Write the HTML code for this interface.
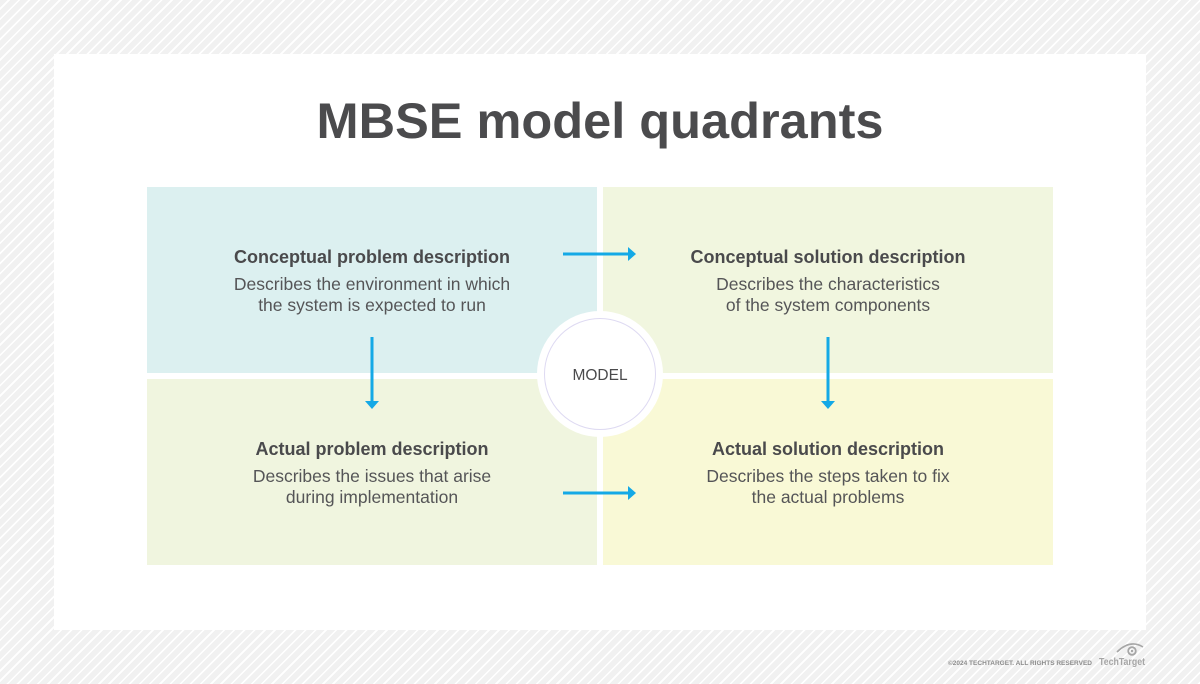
<!DOCTYPE html>
<html>
<head>
<meta charset="utf-8">
<style>
  html, body { margin: 0; padding: 0; }
  body {
    width: 1200px; height: 684px; overflow: hidden;
    background: repeating-linear-gradient(135deg, #f1f1f1 0px, #f1f1f1 5.6px, #ffffff 5.6px, #ffffff 7.2px);
  }
  svg { display: block; }
  text { font-family: "Liberation Sans", Arial, sans-serif; }
</style>
</head>
<body>
<svg width="1200" height="684" viewBox="0 0 1200 684" xmlns="http://www.w3.org/2000/svg">
  <!-- card -->
  <rect x="54" y="54" width="1092" height="576" fill="#ffffff"/>

  <!-- title -->
  <text x="600" y="138" text-anchor="middle" font-size="50" font-weight="bold" fill="#4b4b4d" textLength="567" lengthAdjust="spacingAndGlyphs">MBSE model quadrants</text>

  <!-- quadrants -->
  <rect x="147" y="187" width="450" height="186" fill="#dcf0f0"/>
  <rect x="603" y="187" width="450" height="186" fill="#f1f6df"/>
  <rect x="147" y="379" width="450" height="186" fill="#f0f5df"/>
  <rect x="603" y="379" width="450" height="186" fill="#f9f9d6"/>

  <!-- top-left text -->
  <text x="372" y="263" text-anchor="middle" font-size="18" font-weight="bold" fill="#4a4a4c">Conceptual problem description</text>
  <text x="372" y="290" text-anchor="middle" font-size="17.5" fill="#555557">Describes the environment in which</text>
  <text x="372" y="311" text-anchor="middle" font-size="17.5" fill="#555557">the system is expected to run</text>

  <!-- top-right text -->
  <text x="828" y="263" text-anchor="middle" font-size="18" font-weight="bold" fill="#4a4a4c">Conceptual solution description</text>
  <text x="828" y="290" text-anchor="middle" font-size="17.5" fill="#555557">Describes the characteristics</text>
  <text x="828" y="311" text-anchor="middle" font-size="17.5" fill="#555557">of the system components</text>

  <!-- bottom-left text -->
  <text x="372" y="455" text-anchor="middle" font-size="18" font-weight="bold" fill="#4a4a4c">Actual problem description</text>
  <text x="372" y="482" text-anchor="middle" font-size="17.5" fill="#555557">Describes the issues that arise</text>
  <text x="372" y="503" text-anchor="middle" font-size="17.5" fill="#555557">during implementation</text>

  <!-- bottom-right text -->
  <text x="828" y="455" text-anchor="middle" font-size="18" font-weight="bold" fill="#4a4a4c">Actual solution description</text>
  <text x="828" y="482" text-anchor="middle" font-size="17.5" fill="#555557">Describes the steps taken to fix</text>
  <text x="828" y="503" text-anchor="middle" font-size="17.5" fill="#555557">the actual problems</text>

  <!-- arrows -->
  <g fill="#14a9e6" stroke="none">
    <rect x="563" y="252.5" width="66" height="3"/>
    <polygon points="628,247 636,254 628,261"/>
    <rect x="563" y="491.5" width="66" height="3"/>
    <polygon points="628,486 636,493 628,500"/>
    <rect x="370.5" y="337" width="3" height="65"/>
    <polygon points="365,401 379,401 372,409"/>
    <rect x="826.5" y="337" width="3" height="65"/>
    <polygon points="821,401 835,401 828,409"/>
  </g>

  <!-- model circle -->
  <circle cx="600" cy="374" r="63" fill="#ffffff"/>
  <circle cx="600" cy="374" r="55.5" fill="#ffffff" stroke="#dedaf2" stroke-width="1"/>
  <text x="600" y="380" text-anchor="middle" font-size="15.5" fill="#4a4a4c">MODEL</text>

  <!-- footer -->
  <text x="948" y="665" font-size="6.2" font-weight="bold" fill="#8c8c8c" textLength="144" lengthAdjust="spacingAndGlyphs">©2024 TECHTARGET. ALL RIGHTS RESERVED</text>
  <text x="1099" y="665" font-size="10.5" font-weight="bold" fill="#a6a6a6" textLength="46" lengthAdjust="spacingAndGlyphs">TechTarget</text>
  <path d="M1117,652 Q1130,639 1143,647" fill="none" stroke="#a6a6a6" stroke-width="1.6"/>
  <circle cx="1132" cy="651" r="3.8" fill="none" stroke="#a6a6a6" stroke-width="1.8"/>
  <circle cx="1132" cy="651" r="1.2" fill="#a6a6a6"/>
</svg>
</body>
</html>
